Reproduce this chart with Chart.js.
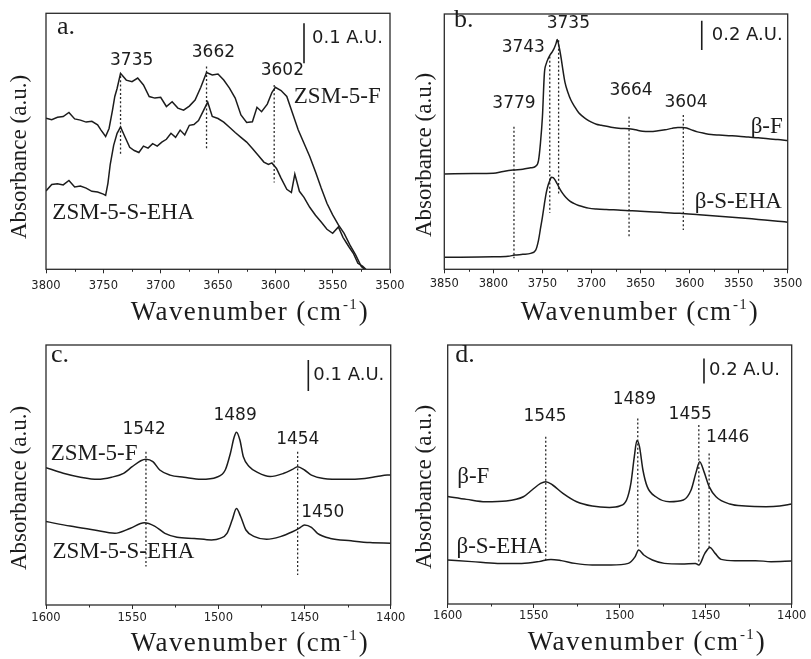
<!DOCTYPE html>
<html><head><meta charset="utf-8">
<script src="https://cdn.jsdelivr.net/npm/chart.js@4.4.0/dist/chart.umd.min.js"></script>
<style>
html,body{margin:0;padding:0;background:#fff;}
#wrap{position:relative;width:811px;height:659px;overflow:hidden;background:#fff;}
canvas{position:absolute;}
</style></head><body>
<div id="wrap">
<canvas id="pa" width="405" height="330" style="left:0;top:0"></canvas>
<canvas id="pb" width="406" height="330" style="left:405px;top:0"></canvas>
<canvas id="pc" width="405" height="329" style="left:0;top:330px"></canvas>
<canvas id="pd" width="406" height="329" style="left:405px;top:330px"></canvas>
</div>
<script>
// ===== Panel a : ZSM-5, OH region =====
const aWnF  = [3800,3795,3790,3785,3780,3775,3770,3765,3760,3755,3752,3748,3745,3742,3740,3738,3735,3730,3725,3720,3715,3710,3705,3700,3695,3690,3685,3680,3675,3670,3665,3660,3655,3650,3645,3640,3635,3630,3625,3620,3616,3612,3607,3603,3600,3595,3590,3585,3580,3575,3570,3565,3560,3555,3550,3545,3540,3535,3530,3525,3522];
const aAbsF = [0.378,0.374,0.380,0.382,0.392,0.376,0.373,0.368,0.370,0.361,0.348,0.332,0.352,0.398,0.432,0.452,0.490,0.473,0.469,0.478,0.461,0.432,0.428,0.430,0.407,0.419,0.403,0.398,0.408,0.423,0.455,0.492,0.486,0.488,0.473,0.453,0.428,0.386,0.367,0.369,0.405,0.394,0.413,0.442,0.455,0.447,0.432,0.390,0.348,0.315,0.282,0.244,0.203,0.165,0.136,0.111,0.090,0.061,0.036,0.007,0.0];
const aWnS  = [3800,3795,3790,3785,3780,3775,3770,3765,3760,3755,3750,3748,3746,3744,3741,3738,3735,3731,3727,3723,3719,3715,3711,3707,3703,3699,3695,3691,3687,3683,3679,3675,3671,3667,3663,3659,3655,3650,3645,3640,3635,3630,3625,3620,3615,3610,3606,3603,3599,3595,3590,3586,3583,3579,3575,3570,3565,3560,3555,3550,3545,3541,3536,3532,3528,3524,3521];
const aAbsS = [0.196,0.212,0.214,0.211,0.222,0.206,0.208,0.203,0.195,0.193,0.188,0.185,0.215,0.262,0.31,0.34,0.356,0.33,0.305,0.297,0.292,0.308,0.303,0.314,0.308,0.318,0.325,0.34,0.33,0.348,0.336,0.36,0.362,0.372,0.395,0.418,0.382,0.377,0.368,0.355,0.342,0.33,0.318,0.302,0.285,0.268,0.262,0.266,0.252,0.228,0.2,0.192,0.238,0.195,0.18,0.155,0.135,0.118,0.1,0.09,0.106,0.08,0.057,0.04,0.015,0.008,0.0];
const aTicks = [3800,3750,3700,3650,3600,3550,3500];
const aMinor = [3775,3725,3675,3625,3575,3525];
const aMarkers = [[3735,0.483,0.286],[3660,0.507,0.298],[3601,0.461,0.217]];
const aPeaks = [["3735",3725.3,0.522],["3662",3654,0.542],["3602",3593.9,0.498]];
const aNames = [["ZSM-5-F",3546,0.431],["ZSM-5-S-EHA",3732.6,0.14]];
const aLetter = ["a.",3782.6,0.606];
const aBar = [3575,0.615,0.515];
const aBarText = ["0.1 A.U.",3568,0.5775];

// ===== Panel b : beta, OH region =====
const bWnF  = [3850,3820,3800,3790,3780,3770,3762,3757,3754,3752,3750,3748,3746,3744,3742,3740,3738,3736,3735,3733,3731,3729,3727,3724,3721,3717,3713,3709,3705,3700,3695,3690,3680,3670,3662,3655,3648,3640,3632,3625,3618,3612,3607,3603,3598,3592,3585,3578,3570,3560,3550,3540,3530,3520,3510,3500];
const bAbsF = [0.658,0.66,0.662,0.675,0.685,0.69,0.70,0.71,0.75,0.87,1.05,1.35,1.42,1.455,1.48,1.50,1.525,1.56,1.585,1.535,1.46,1.37,1.29,1.22,1.168,1.12,1.08,1.055,1.035,1.015,1.0,0.993,0.98,0.972,0.97,0.962,0.952,0.95,0.955,0.962,0.972,0.978,0.978,0.975,0.962,0.948,0.938,0.93,0.926,0.922,0.918,0.912,0.907,0.9,0.895,0.888];
const bWnS  = [3850,3800,3785,3778,3770,3762,3757,3754,3752,3750,3748,3746,3744,3742,3741,3739,3737,3735,3732,3729,3726,3722,3718,3713,3708,3703,3695,3685,3670,3650,3630,3610,3590,3570,3550,3530,3510,3500];
const bAbsS = [0.083,0.086,0.09,0.098,0.103,0.11,0.13,0.2,0.28,0.36,0.45,0.53,0.585,0.62,0.635,0.632,0.615,0.59,0.552,0.52,0.495,0.47,0.455,0.44,0.43,0.422,0.416,0.412,0.408,0.4,0.393,0.386,0.376,0.366,0.356,0.344,0.332,0.325];
const bTicks = [3850,3800,3750,3700,3650,3600,3550,3500];
const bMinor = [3825,3775,3725,3675,3625,3575,3525];
const bMarkers = [[3779,0.984,0.076],[3742.5,1.467,0.39],[3733.5,1.58,0.52],[3661.7,1.053,0.225],[3606.4,1.064,0.271]];
const bPeaks = [["3779",3779,1.145],["3743",3769.5,1.529],["3735",3723.6,1.692],["3664",3659.7,1.232],["3604",3603.6,1.149]];
const bNames = [["β-F",3521.4,0.984],["β-S-EHA",3550.3,0.467]];
const bLetter = ["b.",3830.3,1.72];
const bBar = [3587.6,1.715,1.513];
const bBarText = ["0.2 A.U.",3577.4,1.616];

// ===== Panel c : ZSM-5, pyridine region =====
const cWnF  = [1600,1590,1580,1570,1562,1555,1550,1545,1542,1538,1534,1528,1520,1510,1501,1496,1493,1491,1489.5,1487.5,1485.5,1482,1477,1470,1462,1457,1454,1450,1446,1439,1427,1415,1408,1402,1400];
const cAbsF = [0.458,0.439,0.426,0.419,0.426,0.439,0.461,0.481,0.486,0.478,0.45,0.433,0.426,0.419,0.426,0.45,0.506,0.556,0.576,0.55,0.494,0.461,0.441,0.428,0.439,0.452,0.461,0.45,0.433,0.422,0.419,0.422,0.428,0.433,0.433];
const cWnS  = [1600,1586,1572,1560,1551,1543,1537,1531,1524,1514,1504,1499,1495,1492,1489.5,1487,1484,1479,1472,1464,1457,1453,1450,1446,1442.5,1435,1423,1412,1400];
const cAbsS = [0.278,0.263,0.25,0.239,0.256,0.274,0.263,0.239,0.226,0.222,0.217,0.222,0.239,0.283,0.322,0.294,0.25,0.228,0.219,0.228,0.244,0.256,0.267,0.259,0.239,0.222,0.214,0.208,0.206];
const cTicks = [1600,1550,1500,1450,1400];
const cMinor = [1575,1525,1475,1425];
const cMarkers = [[1542,0.511,0.128],[1454,0.511,0.1]];
const cPeaks = [["1542",1543.1,0.586],["1489",1490.3,0.633],["1454",1453.9,0.552],["1450",1439.4,0.308]];
const cNames = [["ZSM-5-F",1572.1,0.503],["ZSM-5-S-EHA",1555.1,0.178]];
const cLetter = ["c.",1591.9,0.833];
const cBar = [1447.8,0.817,0.713];
const cBarText = ["0.1 A.U.",1444.9,0.767];

// ===== Panel d : beta, pyridine region =====
const dWnF  = [1600,1589,1578,1566,1556,1551,1546,1543,1539,1533,1525,1516,1506,1500,1496,1493.5,1491.5,1490,1488.5,1486.5,1484,1479,1471,1463,1458.5,1455.5,1453.5,1451,1448,1444,1436,1427,1415,1407,1400];
const dAbsF = [0.86,0.837,0.818,0.824,0.858,0.912,0.965,0.979,0.952,0.885,0.818,0.784,0.773,0.784,0.832,0.965,1.179,1.307,1.259,1.072,0.939,0.858,0.818,0.832,0.912,1.059,1.139,1.059,0.939,0.858,0.8,0.784,0.779,0.784,0.8];
const dWnS  = [1600,1586,1571,1557,1547,1540,1534,1526,1516,1505,1495,1491,1489,1486,1481,1474,1464,1456,1454,1450.5,1447.5,1444.5,1441,1433,1421,1412,1400];
const dAbsS = [0.352,0.339,0.325,0.325,0.339,0.357,0.347,0.325,0.312,0.312,0.325,0.379,0.432,0.392,0.352,0.325,0.32,0.325,0.312,0.405,0.453,0.405,0.357,0.347,0.347,0.339,0.344];
const dTicks = [1600,1550,1500,1450,1400];
const dMinor = [1575,1525,1475,1425];
const dMarkers = [[1543,1.339,0.352],[1489.5,1.485,0.445],[1454,1.432,0.339],[1448,1.205,0.445]];
const dPeaks = [["1545",1543.4,1.499],["1489",1491.5,1.637],["1455",1459,1.512],["1446",1437.2,1.333]];
const dNames = [["β-F",1585.1,1.018],["β-S-EHA",1569.6,0.458]];
const dLetter = ["d.",1589.9,1.992];
const dBar = [1451,1.965,1.765];
const dBarText = ["0.2 A.U.",1448.1,1.866];

const yTitleText = "Absorbance (a.u.)";
const xTitleMain = "Wavenumber (cm";
const xTitleSup = "-1";

const INK = '#1c1c1c';

function pts(w, a){ return w.map((v,i)=>({x:v, y:a[i]})); }

function makeDeco(p){
  return {
    id:'deco',
    afterDraw(chart){
      const {ctx, chartArea:ca, scales} = chart;
      const x = scales.x, y = scales.y;
      ctx.save();
      ctx.strokeStyle = '#2a2a2a'; ctx.lineWidth = 1.3;
      ctx.strokeRect(ca.left, ca.top, ca.right-ca.left, ca.bottom-ca.top);
      ctx.lineWidth = 1;
      for (const v of p.minor){
        const px = Math.round(x.getPixelForValue(v))+0.5;
        ctx.beginPath(); ctx.moveTo(px, ca.bottom); ctx.lineTo(px, ca.bottom+2.5); ctx.stroke();
      }
      ctx.fillStyle = INK;
      ctx.textBaseline = 'middle';
      ctx.font = '17px "DejaVu Sans"'; ctx.textAlign = 'center';
      for (const [t,wx,wy] of p.peaks) ctx.fillText(t, x.getPixelForValue(wx), y.getPixelForValue(wy));
      ctx.font = '18px "DejaVu Sans"'; ctx.textAlign = 'left';
      ctx.fillText(p.barText[0], x.getPixelForValue(p.barText[1]), y.getPixelForValue(p.barText[2]));
      ctx.font = '23px "Liberation Serif"'; ctx.textAlign = 'center';
      for (const [t,wx,wy] of p.names) ctx.fillText(t, x.getPixelForValue(wx), y.getPixelForValue(wy));
      ctx.font = '26px "Liberation Serif"';
      ctx.fillText(p.letter[0], x.getPixelForValue(p.letter[1]), y.getPixelForValue(p.letter[2]));
      // y title
      ctx.save();
      ctx.translate(p.yTitle[0], p.yTitle[1]); ctx.rotate(-Math.PI/2);
      ctx.font = '23px "Liberation Serif"'; ctx.textAlign = 'center';
      ctx.fillText(yTitleText, 0, 0);
      ctx.restore();
      // x title with superscript
      ctx.textAlign = 'left'; ctx.textBaseline = 'alphabetic';
      ctx.letterSpacing = '1.4px';
      ctx.font = '27px "Liberation Serif"';
      const w1 = ctx.measureText(xTitleMain).width;
      const w3 = ctx.measureText(')').width;
      ctx.font = '15px "Liberation Serif"';
      const w2 = ctx.measureText(xTitleSup).width;
      const total = w1 + w2 + w3 + 1;
      const sx = p.xTitle[0] - total/2;
      const base = p.xTitle[1] + 8;
      ctx.font = '27px "Liberation Serif"';
      ctx.fillText(xTitleMain, sx, base);
      ctx.font = '15px "Liberation Serif"';
      ctx.fillText(xTitleSup, sx + w1 + 0.5, base - 11);
      ctx.font = '27px "Liberation Serif"';
      ctx.fillText(')', sx + w1 + w2 + 1, base);
      ctx.letterSpacing = '0px';
      ctx.restore();
    }
  };
}

function buildPanel(p){
  const ds = [];
  p.series.forEach(([w,a]) => ds.push({
    data: pts(w,a), borderColor: INK, borderWidth: 1.5, pointRadius: 0, fill: false,
    tension: p.smooth ? 0.4 : 0, cubicInterpolationMode: p.smooth ? 'monotone' : 'default'
  }));
  p.markers.forEach(([w,t,b]) => ds.push({
    data: [{x:w,y:t},{x:w,y:b}], borderColor: '#2a2a2a', borderWidth: 1.3,
    borderDash: [2,2.2], pointRadius: 0, tension: 0
  }));
  ds.push({data: [{x:p.bar[0],y:p.bar[1]},{x:p.bar[0],y:p.bar[2]}], borderColor: INK, borderWidth: 1.6, pointRadius: 0, tension: 0});

  new Chart(document.getElementById(p.id), {
    type: 'line',
    data: {datasets: ds},
    options: {
      responsive: false, animation: false, devicePixelRatio: 1,
      layout: {padding: {left: 0, right: p.padR, top: p.padTop, bottom: 0}},
      plugins: {legend: {display: false}, tooltip: {enabled: false}},
      scales: {
        x: {
          type: 'linear', min: p.xmin, max: p.xmax, reverse: true,
          afterBuildTicks: s => { s.ticks = p.ticks.map(v => ({value: v})); },
          ticks: {font: {family: 'DejaVu Sans', size: 11.5}, color: '#222', padding: p.tickPad, maxRotation: 0, autoSkip: false,
                  callback: v => String(v)},
          grid: {display: true, drawOnChartArea: false, drawTicks: true, tickLength: 4, color: '#2a2a2a', tickColor: '#2a2a2a', lineWidth: 1},
          border: {display: false},
          afterFit: s => { s.height = p.axisH; s.paddingLeft = 0; s.paddingRight = 0; }
        },
        y: {
          min: 0, max: p.ymax,
          ticks: {display: false}, grid: {display: false}, border: {display: false},
          afterFit: s => { s.width = p.left; s.paddingTop = 0; s.paddingBottom = 0; }
        }
      }
    },
    plugins: [makeDeco(p)]
  });
}

buildPanel({id:'pa', xmin:3500, xmax:3800, ymax:0.64, left:46, padR:15, padTop:13.3, axisH:60.7, tickPad:6,
  ticks:aTicks, minor:aMinor, series:[[aWnF,aAbsF],[aWnS,aAbsS]], smooth:false,
  markers:aMarkers, bar:aBar, barText:aBarText, peaks:aPeaks, names:aNames, letter:aLetter,
  yTitle:[20,157], xTitle:[250,312]});
buildPanel({id:'pb', xmin:3500, xmax:3850, ymax:1.761, left:39.3, padR:23.3, padTop:14, axisH:60.7, tickPad:4,
  ticks:bTicks, minor:bMinor, series:[[bWnF,bAbsF],[bWnS,bAbsS]], smooth:true,
  markers:bMarkers, bar:bBar, barText:bBarText, peaks:bPeaks, names:bNames, letter:bLetter,
  yTitle:[20,155], xTitle:[235,312]});
buildPanel({id:'pc', xmin:1400, xmax:1600, ymax:0.8667, left:46, padR:14.3, padTop:15, axisH:54, tickPad:2.5,
  ticks:cTicks, minor:cMinor, series:[[cWnF,cAbsF],[cWnS,cAbsS]], smooth:true,
  markers:cMarkers, bar:cBar, barText:cBarText, peaks:cPeaks, names:cNames, letter:cLetter,
  yTitle:[20,158], xTitle:[250,313]});
buildPanel({id:'pd', xmin:1400, xmax:1600, ymax:2.072, left:42.7, padR:19.3, padTop:15, axisH:55, tickPad:1,
  ticks:dTicks, minor:dMinor, series:[[dWnF,dAbsF],[dWnS,dAbsS]], smooth:true,
  markers:dMarkers, bar:dBar, barText:dBarText, peaks:dPeaks, names:dNames, letter:dLetter,
  yTitle:[20,157], xTitle:[242,312]});
</script>
</body></html>
